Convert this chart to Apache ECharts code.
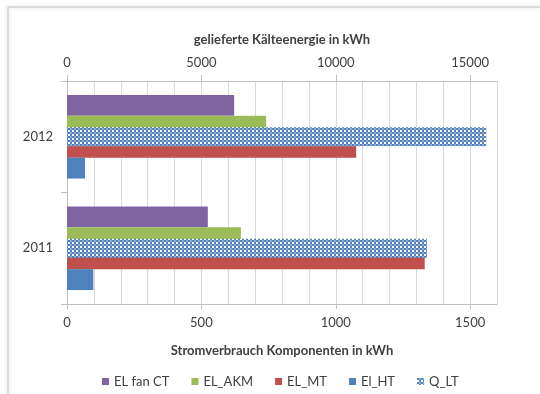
<!DOCTYPE html>
<html>
<head>
<meta charset="utf-8">
<script src="https://cdn.jsdelivr.net/npm/echarts@6/dist/echarts.min.js"></script>
<style>
  html, body { margin: 0; padding: 0; background: #ffffff; }
  #chart { width: 540px; height: 394px; }
</style>
</head>
<body>
<div id="chart"></div>
<script>
// Years on the category axis (first entry is drawn at the bottom)
const years = ['2011', '2012'];

// Electricity use of the components, kWh (lower axis)
const elFanCT = [524, 622];
const elAKM   = [647, 741];
const elMT    = [1331, 1076];
const elHT    = [98, 67];

// Delivered cooling energy, kWh (upper axis)
const qLT = [13390, 15600];

// Tick labels of both value axes
const lowerTicks = [0, 500, 1000, 1500];
const upperTicks = [0, 5000, 10000, 15000];

const FONT = 'Lato, "Open Sans", sans-serif';
const TEXT = '#404040';

// Blue dotted fill used for Q_LT
function dottedPattern() {
  const c = document.createElement('canvas');
  c.width = 4; c.height = 4;
  const g = c.getContext('2d');
  g.fillStyle = '#ffffff';
  g.fillRect(0, 0, 4, 4);
  g.fillStyle = '#4f81bd';
  g.fillRect(0, 0, 2, 2);
  g.fillRect(2, 2, 2, 2);
  g.fillStyle = '#8eaad3';
  g.fillRect(2, 0, 2, 2);
  return c;
}
const qFill = { image: dottedPattern(), repeat: 'repeat' };

const chart = echarts.init(document.getElementById('chart'), null, { renderer: 'canvas' });

const axisLineStyle = { color: '#bfbfbf', width: 1 };

chart.setOption({
  animation: false,
  backgroundColor: '#ffffff',
  textStyle: { fontFamily: FONT, color: TEXT },
  graphic: [{
    type: 'rect',
    shape: { x: 8, y: 7, width: 560, height: 420 },
    style: { fill: 'none', stroke: '#c4c4c4', lineWidth: 1,
             shadowBlur: 4, shadowColor: 'rgba(0,0,0,0.25)' },
    z: -10, silent: true
  }],
  grid: { left: 67, right: 43, top: 81, bottom: 90, containLabel: false },
  legend: {
    top: 370,
    left: 97,
    itemWidth: 7,
    itemHeight: 7,
    itemGap: 22,
    icon: 'rect',
    textStyle: { fontFamily: FONT, fontSize: 13, color: TEXT },
    data: ['EL fan CT', 'EL_AKM', 'EL_MT', 'El_HT', 'Q_LT']
  },
  xAxis: [
    {
      // lower axis: component electricity
      type: 'value', position: 'bottom', min: 0, max: 1600, interval: 500,
      name: 'Stromverbrauch Komponenten in kWh',
      nameLocation: 'middle', nameGap: 40,
      nameTextStyle: { fontFamily: FONT, fontSize: 13, fontWeight: 'bold', color: TEXT },
      axisLine: { show: true, lineStyle: axisLineStyle },
      axisTick: { show: true, length: 5, lineStyle: axisLineStyle, customValues: lowerTicks },
      axisLabel: { fontFamily: FONT, fontSize: 13, color: TEXT, margin: 12,
                   customValues: lowerTicks,
                   formatter: v => (lowerTicks.indexOf(v) >= 0 ? String(v) : '') },
      splitLine: { show: false }
    },
    {
      // upper axis: delivered cooling energy
      type: 'value', position: 'top', min: 0, max: 16000, interval: 5000,
      name: 'gelieferte Kälteenergie in kWh',
      nameLocation: 'middle', nameGap: 35,
      nameTextStyle: { fontFamily: FONT, fontSize: 13, fontWeight: 'bold', color: TEXT },
      axisLine: { show: true, lineStyle: axisLineStyle },
      axisTick: { show: true, length: 6, lineStyle: axisLineStyle, customValues: upperTicks },
      axisLabel: { fontFamily: FONT, fontSize: 13, color: TEXT, margin: 12,
                   customValues: upperTicks,
                   formatter: v => (upperTicks.indexOf(v) >= 0 ? String(v) : '') },
      splitLine: { show: false }
    },
    {
      // vertical gridlines every 100 kWh
      type: 'value', position: 'bottom', min: 0, max: 1600, interval: 100,
      axisLine: { show: false }, axisTick: { show: false }, axisLabel: { show: false },
      splitLine: { show: true, lineStyle: { color: '#d9d9d9', width: 1 } }
    }
  ],
  yAxis: [
    {
      type: 'category', data: years,
      axisLine: { show: true, lineStyle: axisLineStyle },
      axisTick: { show: true, length: 6, alignWithLabel: false, lineStyle: axisLineStyle },
      axisLabel: { fontFamily: FONT, fontSize: 13, color: TEXT, margin: 14 },
      splitLine: { show: false }
    },
    {
      type: 'category', data: years, show: false
    }
  ],
  series: [
    { name: 'EL fan CT', type: 'bar', xAxisIndex: 0, yAxisIndex: 0, data: elFanCT,
      itemStyle: { color: '#8064a2' }, barGap: 0, barCategoryGap: '25%' },
    { name: 'EL_AKM', type: 'bar', xAxisIndex: 0, yAxisIndex: 0, data: elAKM,
      itemStyle: { color: '#9bbb59' }, barGap: 0, barCategoryGap: '25%' },
    { name: 'EL_MT', type: 'bar', xAxisIndex: 0, yAxisIndex: 0, data: elMT,
      itemStyle: { color: '#c0504d' }, barGap: 0, barCategoryGap: '25%' },
    { name: 'El_HT', type: 'bar', xAxisIndex: 0, yAxisIndex: 0, data: elHT,
      itemStyle: { color: '#4f81bd' }, barGap: 0, barCategoryGap: '25%' },
    { name: 'Q_LT', type: 'bar', xAxisIndex: 1, yAxisIndex: 1, data: qLT,
      barWidth: 19, z: 3,
      itemStyle: { color: qFill } }
  ]
});
</script>
</body>
</html>
